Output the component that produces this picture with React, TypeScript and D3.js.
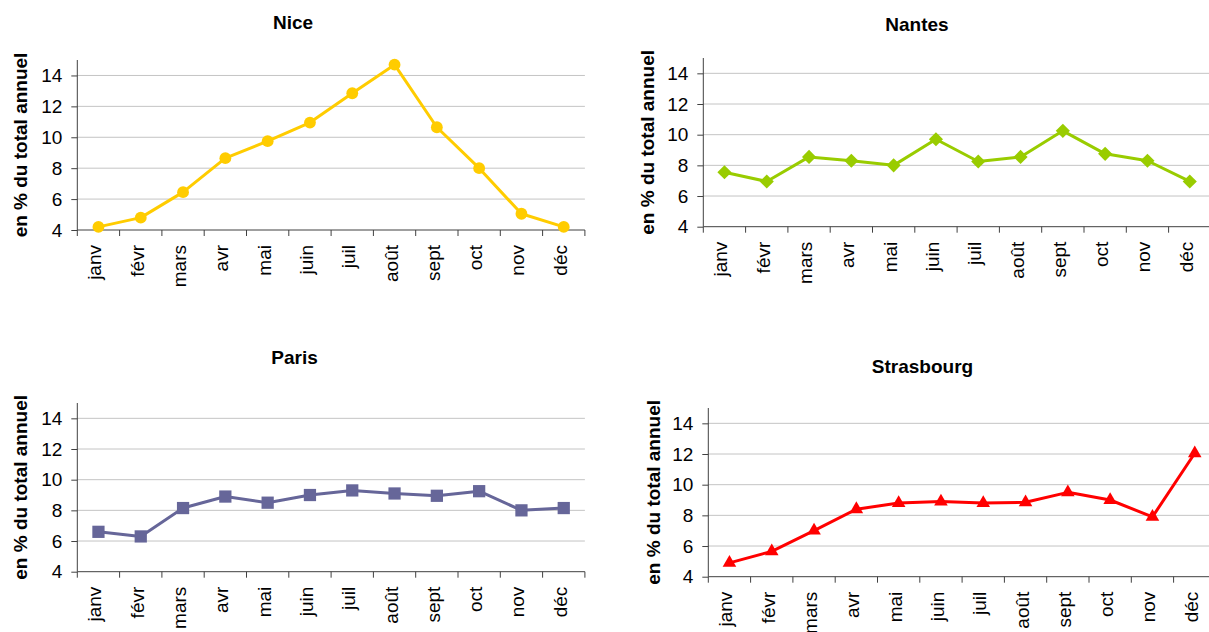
import { useEffect, useRef } from "react"
import * as d3 from "d3"

// months on the x axis
const months = ["janv", "févr", "mars", "avr", "mai", "juin", "juil", "août", "sept", "oct", "nov", "déc"]

// share of the yearly total, per month (%)
const niceValues = [4.2, 4.8, 6.45, 8.65, 9.75, 10.95, 12.85, 14.7, 10.65, 8.0, 5.05, 4.2]
const nantesValues = [7.55, 6.95, 8.55, 8.3, 8.0, 9.7, 8.25, 8.55, 10.25, 8.75, 8.3, 6.95]
const parisValues = [6.6, 6.3, 8.15, 8.9, 8.5, 9.0, 9.3, 9.1, 8.95, 9.25, 8.0, 8.15]
const strasbourgValues = [4.9, 5.65, 7.0, 8.4, 8.8, 8.9, 8.8, 8.85, 9.5, 9.0, 7.9, 12.05]

const yTicks = [4, 6, 8, 10, 12, 14]
const yDomain = [4, 15]
const yTitle = "en % du total annuel"

const FONT = "'Liberation Sans', Arial, Helvetica, sans-serif"

type Panel = {
  title: string
  values: number[]
  color: string
  marker: "circle" | "diamond" | "square" | "triangle"
  left: number
  top: number
  bottom: number
  titleX: number
  titleY: number
  labelX: number
}

const panels: Panel[] = [
  { title: "Nice", values: niceValues, color: "#FFCC00", marker: "circle",
    left: 77.3, top: 60, bottom: 230, titleX: 293, titleY: 28.5, labelX: 26.5 },
  { title: "Nantes", values: nantesValues, color: "#99CC00", marker: "diamond",
    left: 703.3, top: 58, bottom: 226.7, titleX: 917, titleY: 30.5, labelX: 653.5 },
  { title: "Paris", values: parisValues, color: "#666699", marker: "square",
    left: 77.3, top: 403, bottom: 571.7, titleX: 294.5, titleY: 364, labelX: 27 },
  { title: "Strasbourg", values: strasbourgValues, color: "#FF0000", marker: "triangle",
    left: 708.3, top: 408, bottom: 576.7, titleX: 922.5, titleY: 372.5, labelX: 660 },
]

const bandWidth = 42.3

export default function App() {
  const svgRef = useRef<SVGSVGElement>(null)

  useEffect(() => {
    if (!svgRef.current) return
    const svg = d3.select(svgRef.current)
    svg.selectAll("*").remove()

    svg.append("rect").attr("width", 1209).attr("height", 632).attr("fill", "#ffffff")

    panels.forEach((p) => {
      const width = bandWidth * months.length
      const x = d3.scaleBand<string>().domain(months).range([p.left, p.left + width])
      const y = d3.scaleLinear().domain(yDomain).range([p.bottom, p.top])
      const g = svg.append("g")

      // title
      g.append("text")
        .attr("x", p.titleX)
        .attr("y", p.titleY)
        .attr("text-anchor", "middle")
        .attr("font-family", FONT)
        .attr("font-size", 19)
        .attr("font-weight", "bold")
        .attr("fill", "#000")
        .text(p.title)

      // y axis title
      g.append("text")
        .attr("transform", `translate(${p.labelX}, ${(p.top + p.bottom) / 2}) rotate(-90)`)
        .attr("text-anchor", "middle")
        .attr("font-family", FONT)
        .attr("font-size", 19)
        .attr("font-weight", "bold")
        .attr("fill", "#000")
        .text(yTitle)

      // gridlines
      g.selectAll(".grid")
        .data(yTicks.filter((t) => t > yDomain[0]))
        .enter()
        .append("line")
        .attr("x1", p.left)
        .attr("x2", p.left + width)
        .attr("y1", (d) => y(d))
        .attr("y2", (d) => y(d))
        .attr("stroke", "#c4c4c4")
        .attr("stroke-width", 1)

      // y axis
      const yAxis = d3.axisLeft(y).tickValues(yTicks).tickSize(6).tickPadding(9)
      const ya = g.append("g").attr("transform", `translate(${p.left},0)`).call(yAxis)
      ya.select(".domain").attr("stroke", "#404040").attr("d", `M-0,${p.bottom}V${p.top}`)
      ya.selectAll(".tick line").attr("stroke", "#404040")
      ya.selectAll(".tick text")
        .attr("font-family", FONT)
        .attr("font-size", 19)
        .attr("fill", "#000")

      // x axis
      const xa = g.append("g").attr("transform", `translate(0,${p.bottom})`)
      xa.append("line")
        .attr("x1", p.left)
        .attr("x2", p.left + width)
        .attr("stroke", "#404040")
      const tickPos = d3.range(months.length + 1).map((i) => p.left + i * x.step())
      xa.selectAll(".xt")
        .data(tickPos)
        .enter()
        .append("line")
        .attr("x1", (d) => d)
        .attr("x2", (d) => d)
        .attr("y1", 0)
        .attr("y2", 6)
        .attr("stroke", "#404040")
      xa.selectAll(".xl")
        .data(months)
        .enter()
        .append("text")
        .attr("transform", (d) => `translate(${(x(d) ?? 0) + x.bandwidth() / 2}, 15) rotate(-90)`)
        .attr("text-anchor", "end")
        .attr("dy", "0.16em")
        .attr("font-family", FONT)
        .attr("font-size", 19)
        .attr("fill", "#000")
        .text((d) => d)

      // line
      const pts = p.values.map((v, i) => [(x(months[i]) ?? 0) + x.bandwidth() / 2, y(v)] as [number, number])
      g.append("path")
        .attr("d", d3.line()(pts))
        .attr("fill", "none")
        .attr("stroke", p.color)
        .attr("stroke-width", 3)
        .attr("stroke-linejoin", "round")

      // markers
      let sym: d3.SymbolType = d3.symbolCircle
      let size = 110
      let rot = 0
      if (p.marker === "square") { sym = d3.symbolSquare; size = 150 }
      if (p.marker === "diamond") { sym = d3.symbolSquare; size = 100; rot = 45 }
      if (p.marker === "triangle") { sym = d3.symbolTriangle; size = 80 }
      const symbol = d3.symbol().type(sym).size(size)
      g.selectAll(".mk")
        .data(pts)
        .enter()
        .append("path")
        .attr("d", symbol()!)
        .attr("transform", (d) => `translate(${d[0]},${d[1]}) rotate(${rot})`)
        .attr("fill", p.color)
    })
  }, [])

  return (
    <svg
      ref={svgRef}
      width={1209}
      height={632}
      style={{ position: "absolute", left: 0, top: 0, display: "block" }}
    />
  )
}
